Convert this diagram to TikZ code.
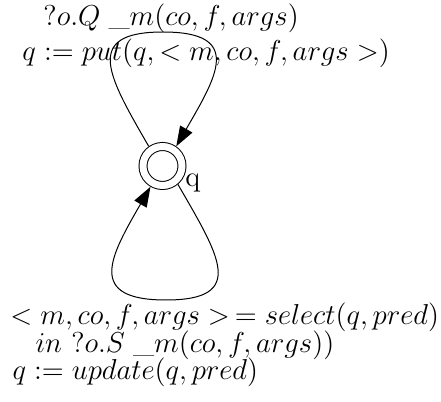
\documentclass[tikz,border=0pt]{standalone}
\usepackage{tikz}
\usetikzlibrary{arrows.meta, positioning}

\begin{document}
\begin{tikzpicture}[
  x=0.5pt, y=0.5pt,
  state/.style={circle, draw, double, double distance=3.5pt, minimum size=19.5pt, inner sep=0pt, outer sep=2.25pt},
  lbl/.style={anchor=base west, inner sep=0pt, font=\Large},
  edge/.style={draw, -{Triangle[length=10pt, width=7pt]}},
  every node/.style={line width=0.5pt}
]
\useasboundingbox (0,0) rectangle (441,402);
\node[state] (q) at (162.5,236) {};
\node[lbl] (qname) at (185,215) {q};
\coordinate (tq) at (163,370);
\coordinate (bq) at (166,102);
% self loops
\draw[edge, line width=0.5pt] (q.125) to[out=120, in=180, looseness=1.8] (tq)
  to[out=0, in=60, looseness=1.8] (q.55);
\draw[edge, line width=0.5pt] (q.-50) to[out=-60, in=0, looseness=1.8] (bq)
  to[out=180, in=-120, looseness=1.8] (q.-120);
% labels
\node[lbl] (qo) at (43,376) {$?o.Q\;\_m(co, f, args)$};
\node[lbl] (qput) at (22,341) {$q := put(q, < m, co, f, args >)$};
\node[lbl] (sel) at (10,77) {$< m, co, f, args >\,= select(q, pred)$};
\node[lbl] (sin) at (35,49) {$in\ ?o.S\;\_m(co, f, args))$};
\node[lbl] (upd) at (12,22) {$q := update(q, pred)$};
\end{tikzpicture}
\end{document}
